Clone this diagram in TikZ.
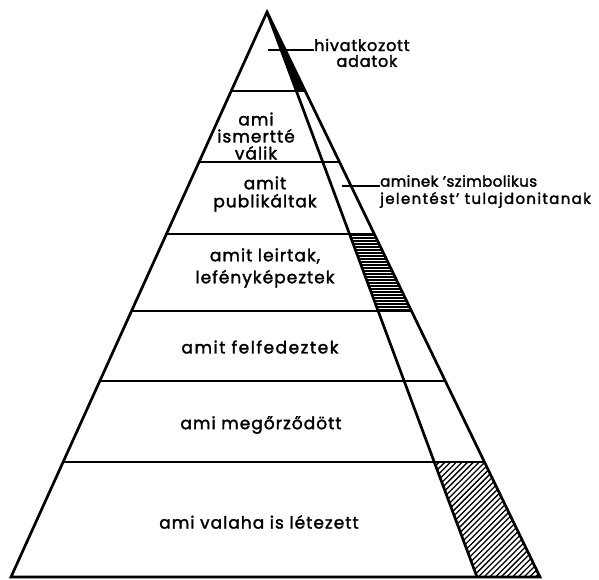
\documentclass[tikz,border=0pt]{standalone}
\usepackage{fontspec}
\setmainfont{Poppins}
\newfontfamily\labfont[FakeBold=1.8,LetterSpace=6]{Poppins}
\newfontfamily\notefont[FakeBold=2]{Poppins}
\usetikzlibrary{calc}
\begin{document}
\begin{tikzpicture}[x=1pt,y=-1pt,
  edge/.style={line width=2.7pt,line join=miter},
  sep/.style={line width=2.5pt},
  hatch/.style={line width=1.3pt},
  lab/.style={font=\labfont\fontsize{17}{18}\selectfont,align=center,inner sep=0pt},
  note/.style={font=\notefont\fontsize{15}{16}\selectfont,inner sep=0pt},
  leader/.style={line width=1.5pt}]
\useasboundingbox (0,0) rectangle (599,579);
% main corners
\coordinate (A) at (267,12);
\coordinate (L) at (11,577);
\coordinate (R) at (540,577);
\coordinate (I) at (477,577);
% layer boundaries
\foreach \n/\t in {1/0.13982,2/0.26549,3/0.39292,4/0.52920,5/0.65310,6/0.79646}{
  \coordinate (l\n) at ($(A)!\t!(L)$);
  \coordinate (r\n) at ($(A)!\t!(R)$);
  \coordinate (i\n) at ($(A)!\t!(I)$);
}
% fills
\fill[black] (A) -- (i1) -- (r1) -- cycle;
\begin{scope}
  \clip (i3) -- (r3) -- (r4) -- (i4) -- cycle;
  \foreach \y in {235,238,...,312}{ \draw[line width=2.3pt] (330,\y) -- (430,\y); }
\end{scope}
\begin{scope}
  \clip (i6) -- (r6) -- (R) -- (I) -- cycle;
  \foreach \x in {300,305.7,...,560}{ \draw[hatch] (\x,590) -- ++(150,-150); }
\end{scope}
% outline
\draw[edge] (A) -- (L) -- (R) -- cycle;
\draw[edge] (A) -- (I);
\foreach \n in {1,...,6}{ \draw[sep] (l\n) -- (r\n); }
% layer labels
\node[lab,font=\labfont\fontsize{17}{17}\selectfont] (t2) at (256,136) {ami\\ismertté\\válik};
\node[lab] (t3) at (265,194) {amit\\publikáltak};
\node[lab,font=\labfont\fontsize{17}{22}\selectfont] (t4) at (265,268) {amit leirtak,\\lefényképeztek};
\node[lab,font=\labfont\fontsize{17}{18}\addfontfeature{LetterSpace=9}\selectfont] (t5) at (260,347) {amit felfedeztek};
\node[lab] (t6) at (261,425) {ami megőrződött};
\node[lab] (t7) at (259,522) {ami valaha is létezett};
% annotations
\node[note,anchor=west,font=\notefont\fontsize{16}{16}\addfontfeature{LetterSpace=5}\selectfont] (h) at (314,45) {hivatkozott};
\node[note,font=\notefont\fontsize{16}{16}\addfontfeature{LetterSpace=5}\selectfont] (h2) at ($(h.center)+(5,16)$) {adatok};
\coordinate (h0) at (268,50);
\draw[leader] (h0) -- (h0 -| h.west);
\node[note,anchor=west,font=\notefont\fontsize{15}{16}\addfontfeature{LetterSpace=3}\selectfont] (s) at (380,181) {aminek ’szimbolikus};
\node[note,anchor=west,font=\notefont\fontsize{15}{16}\addfontfeature{LetterSpace=9}\selectfont] (s2) at (380,200) {jelentést’ tulajdonitanak};
\coordinate (s0) at (342,186);
\draw[leader] (s0) -- (s0 -| s.west);
\end{tikzpicture}
\end{document}
